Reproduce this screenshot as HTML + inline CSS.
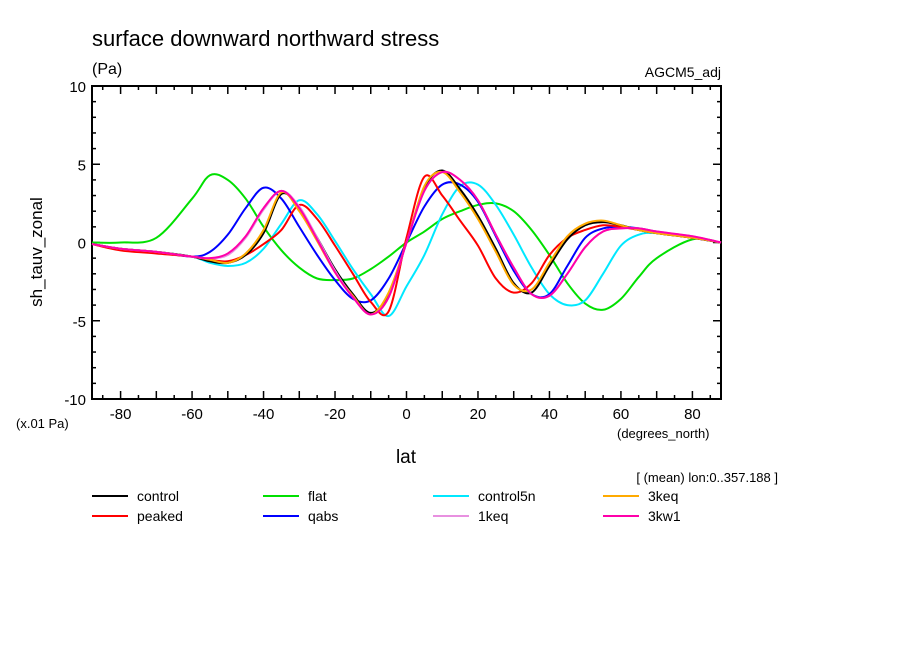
<!DOCTYPE html>
<html><head><meta charset="utf-8"><style>
body{margin:0;background:#fff;}
svg text{font-family:"Liberation Sans",sans-serif;fill:#000;}
</style></head><body>
<svg width="904" height="654" id="c">
<text x="92" y="46" font-size="22">surface downward northward stress</text>
<text x="92" y="74" font-size="16">(Pa)</text>
<text x="721" y="77" font-size="14" text-anchor="end">AGCM5_adj</text>
<text x="32" y="242" font-size="17" text-anchor="middle" transform="rotate(-90 42 242)">sh_tauv_zonal</text>
<text x="16" y="428" font-size="13">(x.01 Pa)</text>
<text x="617" y="438" font-size="13">(degrees_north)</text>
<text x="406" y="463" font-size="19" text-anchor="middle">lat</text>
<text x="778" y="482" font-size="13" text-anchor="end">[ (mean) lon:0..357.188 ]</text>
<g id="axes"></g>
<g id="series"></g>
<g id="legend"></g>
</svg>
<script>
const lats=[-88,-80,-70,-60,-55,-50,-45,-40,-35,-30,-25,-20,-15,-10,-5,0,5,10,15,20,25,30,35,40,45,50,55,60,65,70,80,88];
const control=[-0.1,-0.4,-0.6,-0.9,-1.2,-1.3,-0.8,0.6,3.1,2.2,0.3,-1.7,-3.3,-4.5,-3.3,0,3.5,4.6,3.4,1.7,-0.4,-2.6,-3.2,-1.5,0.2,1.1,1.3,1.1,0.8,0.6,0.3,0];
const flat=[0,0,0.3,2.8,4.3,4,2.8,1,-0.5,-1.6,-2.3,-2.4,-2.3,-1.7,-0.9,0,0.7,1.5,2.0,2.4,2.5,2.0,0.8,-0.8,-2.6,-3.9,-4.3,-3.6,-2.2,-1,0.2,0];
const control5n=[-0.1,-0.4,-0.6,-0.9,-1.3,-1.5,-1.3,-0.4,1.2,2.7,1.8,0.1,-1.7,-3.3,-4.7,-2.8,-0.8,1.8,3.6,3.7,2.4,0.5,-1.6,-3.3,-4.0,-3.7,-2.0,-0.2,0.5,0.6,0.3,0];
const keq3=[-0.1,-0.4,-0.6,-0.9,-1.1,-1.3,-0.7,0.8,3.2,2.0,0.1,-1.9,-3.4,-4.6,-3.2,0,3.6,4.5,3.2,1.5,-0.6,-2.7,-3.0,-1.3,0.4,1.2,1.4,1.1,0.8,0.6,0.3,0];
const peaked=[-0.1,-0.5,-0.7,-0.9,-1.1,-1.2,-0.8,-0.1,0.8,2.4,1.5,-0.2,-2.0,-3.8,-4.4,0.3,4.2,3.0,1.4,-0.2,-2.3,-3.2,-2.6,-0.8,0.3,0.8,1.1,1.0,0.8,0.6,0.3,0];
const qabs=[-0.1,-0.4,-0.6,-0.9,-0.6,0.5,2.2,3.5,2.8,1.0,-0.8,-2.4,-3.6,-3.7,-2.3,0,2.3,3.7,3.7,2.6,0.4,-1.8,-3.3,-3.3,-1.5,0.3,0.9,1.0,0.9,0.7,0.3,0];
const keq1=[-0.1,-0.4,-0.6,-0.9,-1.0,-0.8,0.3,2.1,3.3,2.3,0.3,-1.8,-3.5,-4.6,-3.5,0,3.3,4.5,4.0,2.7,0.5,-1.6,-3.3,-3.4,-2.0,-0.3,0.7,0.9,0.9,0.7,0.4,0];
const kw1=[-0.1,-0.4,-0.6,-0.9,-1.0,-0.7,0.4,2.2,3.3,2.2,0.2,-1.9,-3.5,-4.6,-3.5,0,3.3,4.5,4.0,2.7,0.5,-1.6,-3.3,-3.4,-2.0,-0.3,0.7,0.9,0.9,0.7,0.4,0];
const yTicks=[-10,-5,0,5,10];
const xTicks=[-80,-60,-40,-20,0,20,40,60,80];
const seriesNames=["control","flat","control5n","3keq","peaked","qabs","1keq","3kw1"];
const NS="http://www.w3.org/2000/svg";
const X0=92,X1=721,Y0=86,Y1=399;
const xs=v=>X0+(v+88)/176*(X1-X0);
const ys=v=>Y1-(v+10)/20*(Y1-Y0);
function mk(t,a,p){const e=document.createElementNS(NS,t);for(const k in a)e.setAttribute(k,a[k]);p.appendChild(e);return e;}
function smooth(pts){let d='M'+pts[0][0]+','+pts[0][1];
 for(let i=0;i<pts.length-1;i++){const p0=pts[Math.max(0,i-1)],p1=pts[i],p2=pts[i+1],p3=pts[Math.min(pts.length-1,i+2)];
  const c1=[p1[0]+(p2[0]-p0[0])/6,p1[1]+(p2[1]-p0[1])/6],c2=[p2[0]-(p3[0]-p1[0])/6,p2[1]-(p3[1]-p1[1])/6];
  d+=' C'+c1[0]+','+c1[1]+' '+c2[0]+','+c2[1]+' '+p2[0]+','+p2[1];}
 return d;}
const ax=document.getElementById('axes');
const frame=mk('rect',{x:X0,y:Y0,width:X1-X0,height:Y1-Y0,fill:'none',stroke:'#000','stroke-width':2},ax);


for(let v=-10;v<=10;v++){const y=ys(v),L=v%5==0?8:4;
 mk('line',{x1:X0,x2:X0+L,y1:y,y2:y,stroke:'#000','stroke-width':1.5},ax);
 mk('line',{x1:X1,x2:X1-L,y1:y,y2:y,stroke:'#000','stroke-width':1.5},ax);}
yTicks.forEach(v=>{const t=mk('text',{x:X0-6,y:ys(v)+6,'font-size':15,'text-anchor':'end'},ax);t.textContent=v;
 
 });
for(let v=-85;v<=85;v+=5){const x=xs(v),L=v%10==0?8:4;
 mk('line',{x1:x,x2:x,y1:Y1,y2:Y1-L,stroke:'#000','stroke-width':1.5},ax);
 mk('line',{x1:x,x2:x,y1:Y0,y2:Y0+L,stroke:'#000','stroke-width':1.5},ax);}
xTicks.forEach(v=>{const t=mk('text',{x:xs(v),y:Y1+20,'font-size':15,'text-anchor':'middle'},ax);t.textContent=v;
 
 });
const data=[control,flat,control5n,keq3,peaked,qabs,keq1,kw1];
const colors=["#000","#00e000","#00e8ff","#ffaa00","#ff0000","#0000ff","#e890e0","#ff00aa"];
const order=[1,2,5,4,0,3,6,7];
const sg=document.getElementById('series');
order.forEach(i=>{const p=mk('path',{d:smooth(lats.map((l,j)=>[xs(l),ys(data[i][j])])),fill:'none',stroke:colors[i],'stroke-width':2},sg);
 
 });
const lg=document.getElementById('legend');
const lx=[92,263,433,603];
const colOf=[0,1,2,3,0,1,2,3];
seriesNames.forEach((n,i)=>{const x=lx[colOf[i]],y=i<4?496:516;
 const g=mk('g',{},lg);
 
 
 mk('line',{x1:x,x2:x+36,y1:y,y2:y,stroke:colors[i],'stroke-width':2},g);
 const t=mk('text',{x:x+45,y:y+5,'font-size':14},g);t.textContent=n;});
</script>
</body></html>
